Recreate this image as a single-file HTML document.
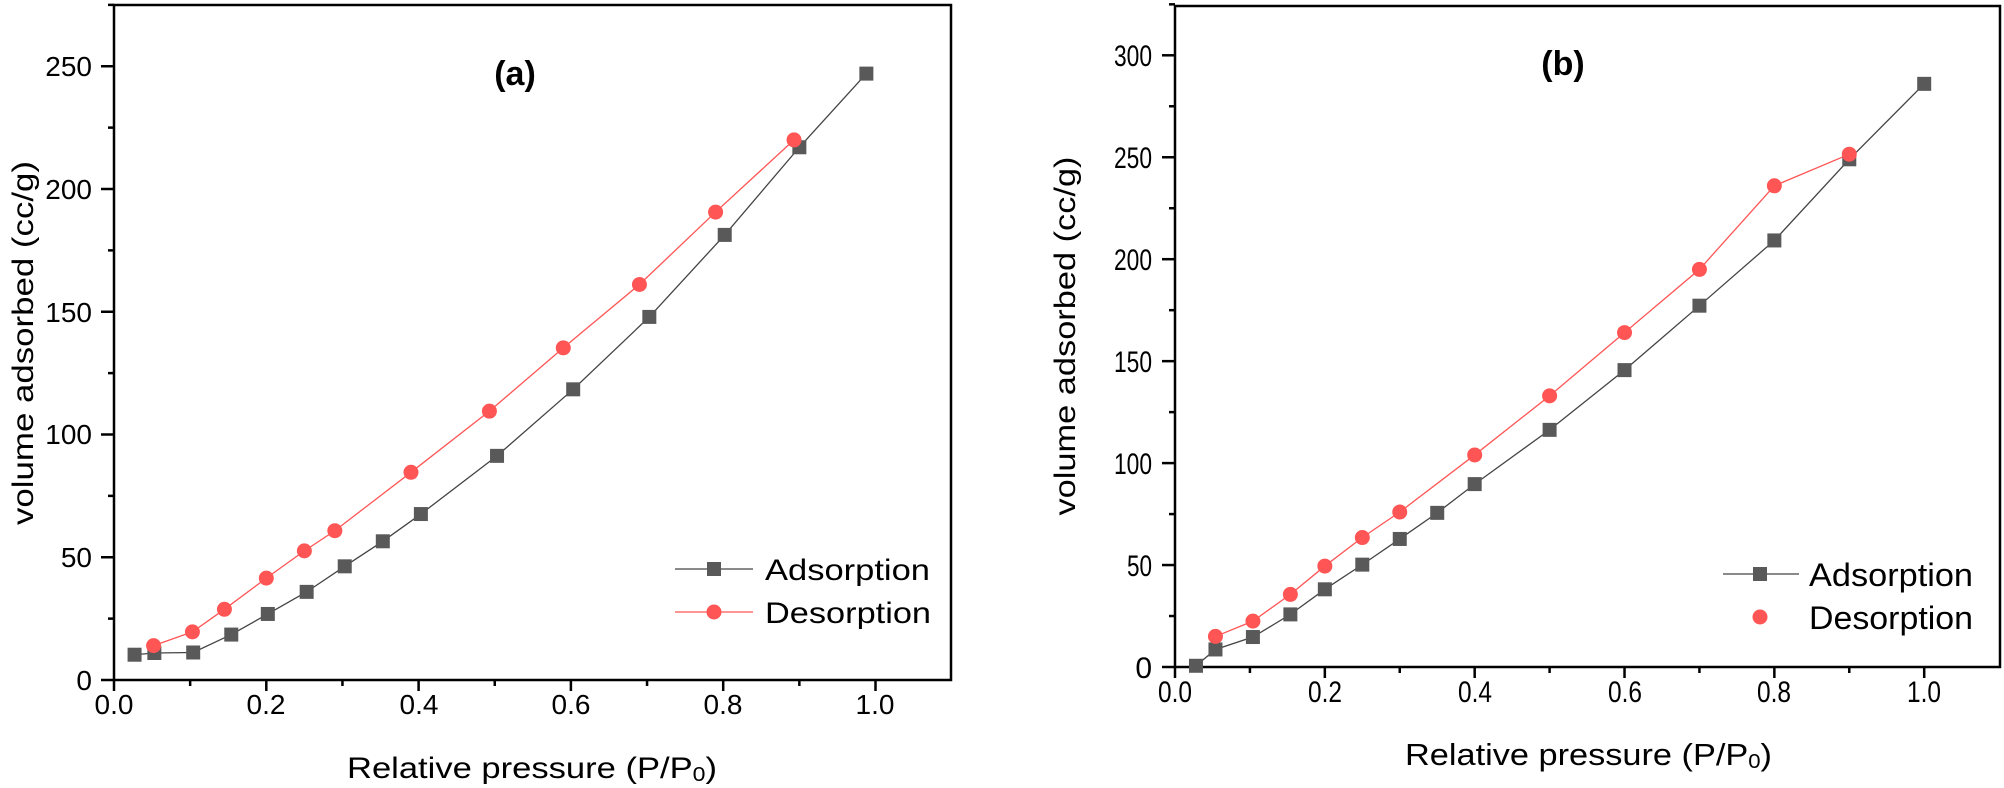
<!DOCTYPE html>
<html><head><meta charset="utf-8"><style>
html,body{margin:0;padding:0;background:#fff;}
svg{display:block;font-family:"Liberation Sans",Arial,sans-serif;}
</style></head><body>
<svg id="s" width="2004" height="788" viewBox="0 0 2004 788" xmlns="http://www.w3.org/2000/svg">
<g id="g"></g>
<!-- panel a text -->
<g font-size="28" fill="#000" text-anchor="middle">
<text x="114" y="714">0.0</text><text x="266" y="714">0.2</text><text x="419" y="714">0.4</text><text x="571" y="714">0.6</text><text x="723" y="714">0.8</text><text x="875" y="714">1.0</text>
</g>
<g font-size="28" fill="#000" text-anchor="end">
<text x="92" y="690">0</text><text x="92" y="567">50</text><text x="92" y="444">100</text><text x="92" y="322">150</text><text x="92" y="199">200</text><text x="92" y="76">250</text>
</g>
<text x="347" y="778" font-size="30" textLength="370" lengthAdjust="spacingAndGlyphs">Relative pressure (P/P<tspan font-size="20" dy="3">0</tspan><tspan dy="-3">)</tspan></text>
<text transform="translate(33,343) rotate(-90)" font-size="30" text-anchor="middle" textLength="364" lengthAdjust="spacingAndGlyphs">volume adsorbed (cc/g)</text>
<text x="515" y="85" font-size="34" font-weight="bold" text-anchor="middle">(a)</text>
<text x="765" y="580" font-size="30" textLength="165" lengthAdjust="spacingAndGlyphs">Adsorption</text>
<text x="765" y="623" font-size="30" textLength="166" lengthAdjust="spacingAndGlyphs">Desorption</text>
<!-- panel b text -->
<g font-size="30" fill="#000" text-anchor="middle">
<text x="1175" y="702" textLength="34" lengthAdjust="spacingAndGlyphs">0.0</text><text x="1325" y="702" textLength="34" lengthAdjust="spacingAndGlyphs">0.2</text><text x="1475" y="702" textLength="34" lengthAdjust="spacingAndGlyphs">0.4</text><text x="1625" y="702" textLength="34" lengthAdjust="spacingAndGlyphs">0.6</text><text x="1774" y="702" textLength="34" lengthAdjust="spacingAndGlyphs">0.8</text><text x="1924" y="702" textLength="34" lengthAdjust="spacingAndGlyphs">1.0</text>
</g>
<g font-size="30" fill="#000" text-anchor="end">
<text x="1152" y="678">0</text><text x="1152" y="576" textLength="25" lengthAdjust="spacingAndGlyphs">50</text><text x="1152" y="474" textLength="38" lengthAdjust="spacingAndGlyphs">100</text><text x="1152" y="372" textLength="38" lengthAdjust="spacingAndGlyphs">150</text><text x="1152" y="270" textLength="38" lengthAdjust="spacingAndGlyphs">200</text><text x="1152" y="168" textLength="38" lengthAdjust="spacingAndGlyphs">250</text><text x="1152" y="66" textLength="38" lengthAdjust="spacingAndGlyphs">300</text>
</g>
<text x="1405" y="765" font-size="31" textLength="367" lengthAdjust="spacingAndGlyphs">Relative pressure (P/P<tspan font-size="20" dy="3">0</tspan><tspan dy="-3">)</tspan></text>
<text transform="translate(1075,336) rotate(-90)" font-size="30" text-anchor="middle" textLength="359" lengthAdjust="spacingAndGlyphs">volume adsorbed (cc/g)</text>
<text x="1563" y="75" font-size="34" font-weight="bold" text-anchor="middle">(b)</text>
<text x="1809" y="586" font-size="32" textLength="164" lengthAdjust="spacingAndGlyphs">Adsorption</text>
<text x="1809" y="629" font-size="32" textLength="164" lengthAdjust="spacingAndGlyphs">Desorption</text>
</svg>
<script>
const NS="http://www.w3.org/2000/svg",g=document.getElementById('g');
function el(t,a){const e=document.createElementNS(NS,t);for(const k in a)e.setAttribute(k,a[k]);g.appendChild(e);return e;}
function panel(P){
 const X=v=>P.x0+v*P.xw, Y=v=>P.y0-v*P.ys;
 el('rect',{x:P.x0,y:P.top,width:P.right-P.x0,height:P.y0-P.top,fill:'none',stroke:'#000','stroke-width':2.5});
 for(let i=0;i<=10;i++){const x=X(i/10);el('line',{x1:x,y1:P.y0,x2:x,y2:P.y0+(i%2?6:11),stroke:'#000','stroke-width':2.5});}
 for(let v=0;v<=P.ymax;v+=25){const y=Y(v);el('line',{x1:P.x0,y1:y,x2:P.x0-(v%50?6:13),y2:y,stroke:'#000','stroke-width':2.5});}
 const pa=P.ads.map(p=>X(p[0])+','+Y(p[1])).join(' ');
 const pd=P.des.map(p=>X(p[0])+','+Y(p[1])).join(' ');
 el('polyline',{points:pa,fill:'none',stroke:'#444','stroke-width':1.3});
 el('polyline',{points:pd,fill:'none',stroke:'#f55','stroke-width':1.3});
 P.ads.forEach(p=>el('rect',{x:X(p[0])-7,y:Y(p[1])-7,width:14,height:14,fill:'#595959'}));
 P.des.forEach(p=>el('circle',{cx:X(p[0]),cy:Y(p[1]),r:7.5,fill:'#f55'}));
 const L=P.leg;
 el('line',{x1:L.x1,y1:L.y1,x2:L.x2,y2:L.y1,stroke:'#444','stroke-width':1.3});
 el('rect',{x:L.m-7,y:L.y1-7,width:14,height:14,fill:'#595959'});
 if(L.dline) el('line',{x1:L.x1,y1:L.y2,x2:L.x2,y2:L.y2,stroke:'#f55','stroke-width':1.3});
 el('circle',{cx:L.m,cy:L.y2,r:7.5,fill:'#f55'});
}
panel({x0:114,xw:761.5,y0:680,ys:2.455,top:5,right:951,ymax:275,
 ads:[[.027,10.3],[.053,11],[.104,11.2],[.154,18.5],[.202,26.9],[.253,35.9],[.303,46.3],[.353,56.5],[.403,67.6],[.503,91.3],[.603,118.4],[.703,147.9],[.802,181.3],[.9,217],[.988,247]],
 des:[[.052,14],[.103,19.6],[.145,28.8],[.2,41.5],[.25,52.6],[.29,60.8],[.39,84.6],[.493,109.5],[.59,135.3],[.69,161.1],[.79,190.6],[.893,220]],
 leg:{x1:675,x2:753,m:714,y1:569,y2:612,dline:true}});
panel({x0:1175,xw:749.2,y0:667,ys:2.039,top:6,right:2000,ymax:325,
 ads:[[.028,.6],[.054,8.6],[.104,14.7],[.154,25.8],[.2,38.1],[.25,50.2],[.3,62.8],[.35,75.6],[.4,89.7],[.5,116.3],[.6,145.6],[.7,177.2],[.8,209.2],[.9,249],[1,286]],
 des:[[.054,15],[.104,22.5],[.154,35.6],[.2,49.5],[.25,63.5],[.3,76],[.4,104],[.5,133],[.6,164],[.7,195],[.8,236],[.9,251.5]],
 leg:{x1:1723,x2:1799,m:1760,y1:574,y2:617,dline:false}});
</script>
</body></html>
